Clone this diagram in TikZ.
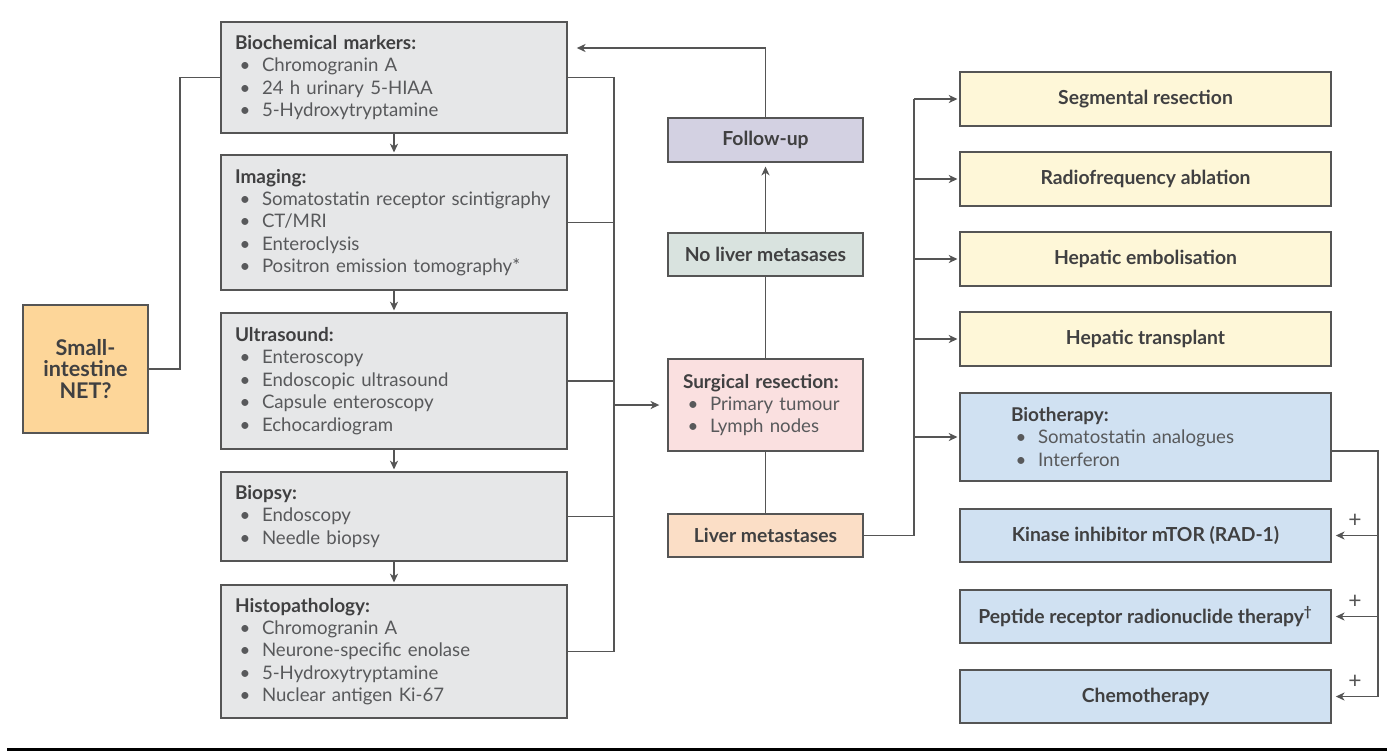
\documentclass[tikz,border=0pt]{standalone}
\usepackage{fontspec}
\setmainfont{Lato}
\usetikzlibrary{arrows.meta}
\definecolor{linec}{HTML}{555555}
\definecolor{headc}{HTML}{404041}
\definecolor{itemc}{HTML}{58595B}
\definecolor{greyfill}{HTML}{E6E7E8}
\definecolor{netfill}{HTML}{FDD699}
\definecolor{fufill}{HTML}{D3D1E2}
\definecolor{nolivfill}{HTML}{D9E3DF}
\definecolor{surgfill}{HTML}{FAE0E0}
\definecolor{livfill}{HTML}{FBDEC6}
\definecolor{yelfill}{HTML}{FEF7D8}
\definecolor{bluefill}{HTML}{D0E1F2}
\newcommand{\hd}[1]{{\bfseries\fontsize{10.8}{12.75}\selectfont\color{headc}#1}}
\newcommand{\bul}{\hspace*{0.09cm}\makebox[0.45cm][l]{\textbullet}}
\begin{document}
\begin{tikzpicture}[x=0.02cm,y=-0.02cm,line width=0.9pt,draw=linec,
  arr/.style={-{Stealth[length=5pt,width=4.6pt,inset=1.5pt]},shorten >=1pt},
  box/.style={draw=linec,line width=0.9pt,inner sep=0pt,text=headc,
    font=\bfseries\fontsize{11}{12}\selectfont},
  listbox/.style={box,fill=greyfill,text width=6.36cm,inner xsep=0.28cm,align=left,
    text=itemc,font=\fontsize{10.6}{12.75}\selectfont},
  midbox/.style={box,minimum width=3.9cm,minimum height=0.87cm},
  yelbox/.style={box,fill=yelfill,minimum width=7.42cm,minimum height=1.08cm},
  bluebox/.style={box,fill=bluefill,minimum width=7.42cm,minimum height=1.06cm}]
\useasboundingbox (0,0) rectangle (1396,752);

% start
\node[box,fill=netfill,minimum width=2.5cm,minimum height=2.56cm,align=center,
  font=\bfseries\fontsize{12.3}{12.4}\selectfont] (net) at (85.5,369) {Small-\\intestine\\NET?};

% work-up column
\node[listbox,minimum height=2.22cm] (bio) at (394,77.5)
  {\hd{Biochemical markers:}\\\bul Chromogranin A\\\bul 24 h urinary 5-HIAA\\\bul 5-Hydroxytryptamine};
\node[listbox,minimum height=2.7cm] (img) at (394,222.5)
  {\hd{Imaging:}\\\bul Somatostatin receptor scintigraphy\\\bul CT/MRI\\\bul Enteroclysis\\\bul Positron emission tomography*};
\node[listbox,minimum height=2.72cm] (us) at (394,381)
  {\hd{Ultrasound:}\\\bul Enteroscopy\\\bul Endoscopic ultrasound\\\bul Capsule enteroscopy\\\bul Echocardiogram};
\node[listbox,minimum height=1.78cm] (bx) at (394,516.5)
  {\hd{Biopsy:}\\\bul Endoscopy\\\bul Needle biopsy};
\node[listbox,minimum height=2.66cm] (hist) at (394,651.5)
  {\hd{Histopathology:}\\\bul Chromogranin A\\\bul Neurone-specific enolase\\\bul 5-Hydroxytryptamine\\\bul Nuclear antigen Ki-67};

% middle column
\node[midbox,fill=fufill] (fu) at (765.5,140) {Follow-up};
\node[midbox,fill=nolivfill] (noliv) at (765.5,254.5) {No liver metasases};
\node[box,fill=surgfill,text width=3.3cm,inner xsep=0.3cm,minimum height=1.84cm,align=left,
  text=itemc,font=\fontsize{10.6}{12.75}\selectfont] (surg) at (765.5,405)
  {\hd{Surgical resection:}\\\bul Primary tumour\\\bul Lymph nodes};
\node[midbox,fill=livfill] (liv) at (765.5,535.5) {Liver metastases};

% treatment of liver metastases
\node[yelbox] (seg) at (1145.5,99) {Segmental resection};
\node[yelbox] (rf) at (1145.5,179) {Radiofrequency ablation};
\node[yelbox] (emb) at (1145.5,259) {Hepatic embolisation};
\node[yelbox] (tx) at (1145.5,339) {Hepatic transplant};
\node[box,fill=bluefill,text width=5.38cm,inner xsep=1.02cm,minimum height=1.76cm,align=left,
  text=itemc,font=\fontsize{10.6}{12.75}\selectfont] (biot) at (1145.5,437)
  {\hd{Biotherapy:}\\\bul Somatostatin analogues\\\bul Interferon};
\node[bluebox] (kin) at (1145.5,535.5) {Kinase inhibitor mTOR (RAD-1)};
\node[bluebox] (prrt) at (1145.5,616.5) {Peptide receptor radionuclide therapy\textsuperscript{\textdagger}};
\node[bluebox] (chemo) at (1145.5,696.5) {Chemotherapy};

% connectors
\coordinate (lbus) at (614,405);
\coordinate (fuin) at (575,48);
\coordinate (rbus) at (914,535.5);
\coordinate (tbus) at (1378,451);

\draw (net.east) -- ++(31,0) |- (bio.west);
\foreach \a/\b in {bio/img,img/us,us/bx,bx/hist}
  \draw[arr] (\a.south) -- (\b.north);
\draw (bio.east) -| (lbus) |- (hist.east);
\foreach \n in {img,us,bx}
  \draw (\n.east) -- (\n.east -| lbus);
\draw[arr,shorten >=4.5pt] (lbus) -- (surg.west);

\draw[arr] (fu.north) |- (fuin);
\draw[arr,shorten >=2.3pt] (noliv.north) -- (fu.south);
\draw (surg.north) -- (noliv.south);
\draw (surg.south) -- (liv.north);

\draw (liv.east) -| (rbus |- seg.west);
\foreach \n in {seg,rf,emb,tx,biot}
  \draw[arr] (rbus |- \n.west) -- (\n.west);

\draw (biot.east |- tbus) -- (tbus) -- (tbus |- chemo.east);
\foreach \n in {kin,prrt,chemo}
  \draw[arr,shorten >=2.3pt] (tbus |- \n.east) -- (\n.east)
    node[midway,above=1pt,text=linec,font=\fontsize{13}{13}\selectfont] {+};

\draw[line width=1.7pt,black] (7,749) -- (1387,749);
\end{tikzpicture}
\end{document}
